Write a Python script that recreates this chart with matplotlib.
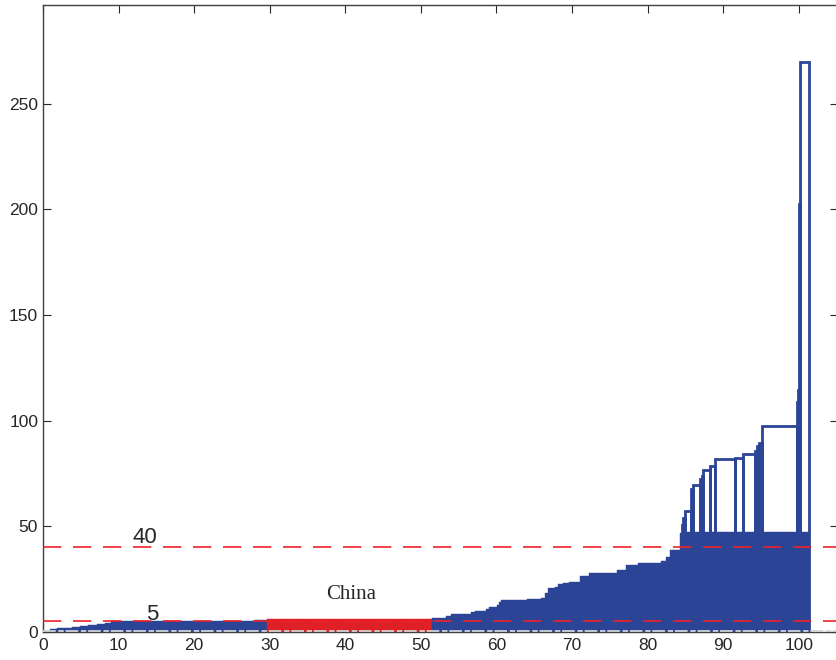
import numpy as np
import matplotlib.pyplot as plt

# population share of each country (% of world), sorted by value
pop_share = [0.9, 0.9, 1.0, 1.0, 1.1, 1.1, 1.1, 1.1, 0.8, 0.6, 8.4, 10.0, 1.6,
             21.9,
             1.8, 0.7, 2.6, 0.6, 1.4, 0.4, 1.1, 0.2, 0.3, 3.5, 1.8, 0.5, 0.4,
             0.9, 0.4, 0.7, 0.8, 1.5, 1.2, 3.6, 1.2, 1.7, 3.0, 0.7, 0.5, 1.3,
             0.2, 0.2, 0.2, 0.8, 0.3, 0.9, 0.25, 0.25, 0.9, 0.6, 2.7, 1.0, 1.6,
             0.3, 0.3, 0.4, 4.6, 0.1, 0.1, 0.15, 1.25]
values = [0.7, 1.2, 1.7, 2.1, 2.5, 2.9, 3.4, 3.9, 4.4, 5.0, 5.3, 5.4, 5.8,
          6.1,
          6.5, 7.5, 8.5, 9.3, 9.9, 10.8, 11.8, 13.0, 14.0, 15.1, 15.6, 16.2, 18.6,
          20.7, 21.4, 22.7, 23.2, 23.7, 26.5, 27.9, 29.3, 31.7, 32.8, 33.8, 35.7, 38.8,
          47.0, 50.6, 54.0, 57.4, 67.5, 69.6, 72.4, 74.0, 76.7, 78.6, 81.9, 82.5, 84.1,
          85.7, 88.0, 89.6, 97.6, 109.0, 114.5, 202.5, 269.5]
china_idx = 13
thresholds = [5, 40]
fill_cap = 47.5

x_ticks = list(range(0, 101, 10))
y_ticks = [0, 50, 100, 150, 200, 250]

blue = '#2b4495'
red = '#e02027'

pop_share = np.array(pop_share)
values = np.array(values)
lefts = np.concatenate([[0], np.cumsum(pop_share)[:-1]])
colors = [red if i == china_idx else blue for i in range(len(values))]

fig = plt.figure(figsize=(8.36, 6.6), dpi=100)
ax = fig.add_axes([43 / 836, 28 / 660, 795 / 836, 627 / 660])

# filled part
ax.bar(lefts, np.minimum(values, fill_cap), width=pop_share, align='edge',
       color=colors, edgecolor=colors, linewidth=0.3, zorder=2)
# outlines of the tall bars
tall = values > fill_cap
ax.bar(lefts[tall], values[tall], width=pop_share[tall], align='edge',
       fill=False, edgecolor=blue, linewidth=2.0, zorder=2)

# baseline
ax.axhline(0.45, color='#d2d2d2', lw=1.3, dashes=(7, 1.5, 3, 1), zorder=3)

for t in thresholds:
    ax.axhline(t, color='#ec2328', lw=1.2, dashes=(11, 7), zorder=4)

ax.text(13.5, 44.5, '40', fontsize=16, family='Liberation Sans', color='#262626',
        ha='center', va='center')
ax.text(14.4, 8.4, '5', fontsize=16, family='Liberation Sans', color='#262626',
        ha='center', va='center')
ax.text(40.8, 17.6, 'China', fontsize=15, family='Liberation Serif', color='#262626',
        ha='center', va='center')

ax.set_xlim(0, 105.2)
ax.set_ylim(0, 296.7)
ax.set_xticks(x_ticks)
ax.set_yticks(y_ticks)
ax.tick_params(direction='in', length=6, width=0.8, color='#262626',
               top=True, right=True, labelsize=12.5, labelcolor='#262626')
ax.tick_params(axis='x', pad=4.5)
ax.tick_params(axis='y', pad=3.5)
for lab in ax.get_xticklabels() + ax.get_yticklabels():
    lab.set_family('Liberation Sans')
for s in ax.spines.values():
    s.set_color('#404040')
    s.set_linewidth(1.0)

fig.savefig('out.png', dpi=100)
